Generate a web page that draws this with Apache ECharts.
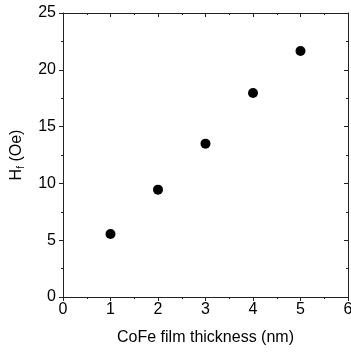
<!DOCTYPE html>
<html>
<head>
<meta charset="utf-8">
<script src="https://cdn.jsdelivr.net/npm/echarts@6/dist/echarts.min.js"></script>
<style>html,body{margin:0;padding:0;background:#fff}#c{width:351px;height:354px}</style>
</head>
<body>
<div id="c"></div>
<script>
const thickness = [1, 2, 3, 4, 5];
const hf = [5.55, 9.45, 13.5, 17.95, 21.65];
const xTicks = [0, 1, 2, 3, 4, 5, 6];
const yTicks = [0, 5, 10, 15, 20, 25];

const chart = echarts.init(document.getElementById('c'), null, {renderer: 'canvas'});
const font = 'Liberation Sans, Arial, sans-serif';
const lineCol = '#222';
const common = {
  axisLine: {show: true, onZero: false, lineStyle: {color: lineCol, width: 1}},
  splitLine: {show: false}
};
chart.setOption({
  animation: false,
  grid: {left: 63, top: 13, right: 3, bottom: 57, containLabel: false, outerBoundsMode: 'none'},
  xAxis: [
    Object.assign({
      type: 'value', min: xTicks[0], max: xTicks[xTicks.length - 1], interval: 1,
      position: 'bottom',
      axisTick: {show: true, inside: false, length: 4, lineStyle: {color: lineCol}},
      minorTick: {show: true, splitNumber: 2, length: 2, lineStyle: {color: lineCol}},
      axisLabel: {margin: 5, fontFamily: font, fontSize: 16, color: '#000', hideOverlap: false, showMaxLabel: true, showMinLabel: true},
      name: 'CoFe film thickness (nm)', nameLocation: 'middle', nameGap: 33,
      nameTextStyle: {fontFamily: font, fontSize: 16, color: '#000'}
    }, common),
    Object.assign({
      type: 'value', min: xTicks[0], max: xTicks[xTicks.length - 1], interval: 1,
      position: 'top',
      axisTick: {show: true, inside: true, length: 4, lineStyle: {color: lineCol}},
      minorTick: {show: true, splitNumber: 2, length: 2, lineStyle: {color: lineCol}},
      axisLabel: {show: false}
    }, common)
  ],
  yAxis: [
    Object.assign({
      type: 'value', min: yTicks[0], max: yTicks[yTicks.length - 1], interval: 5,
      position: 'left',
      axisTick: {show: true, inside: false, length: 4, lineStyle: {color: lineCol}},
      minorTick: {show: true, splitNumber: 2, length: 2, lineStyle: {color: lineCol}},
      axisLabel: {margin: 7, fontFamily: font, fontSize: 16, color: '#000', showMaxLabel: true, showMinLabel: true},
      name: '{m|H}{s|f}{m| (Oe)}', nameLocation: 'middle', nameGap: 37, nameRotate: 90,
      nameTextStyle: {
        fontFamily: font, fontSize: 16, color: '#000',
        rich: {
          m: {fontFamily: font, fontSize: 16, color: '#000'},
          s: {fontFamily: font, fontSize: 10, color: '#000', verticalAlign: 'bottom', padding: [9, 0, 0, 0]}
        }
      }
    }, common),
    Object.assign({
      type: 'value', min: yTicks[0], max: yTicks[yTicks.length - 1], interval: 5,
      position: 'right',
      axisTick: {show: true, inside: true, length: 4, lineStyle: {color: lineCol}},
      minorTick: {show: true, splitNumber: 2, length: 2, lineStyle: {color: lineCol}},
      axisLabel: {show: false}
    }, common)
  ],
  series: [{
    type: 'scatter',
    xAxisIndex: 0, yAxisIndex: 0,
    symbol: 'circle', symbolSize: 10,
    itemStyle: {color: '#000', opacity: 1},
    data: thickness.map((t, i) => [t, hf[i]])
  }]
});
</script>
</body>
</html>
